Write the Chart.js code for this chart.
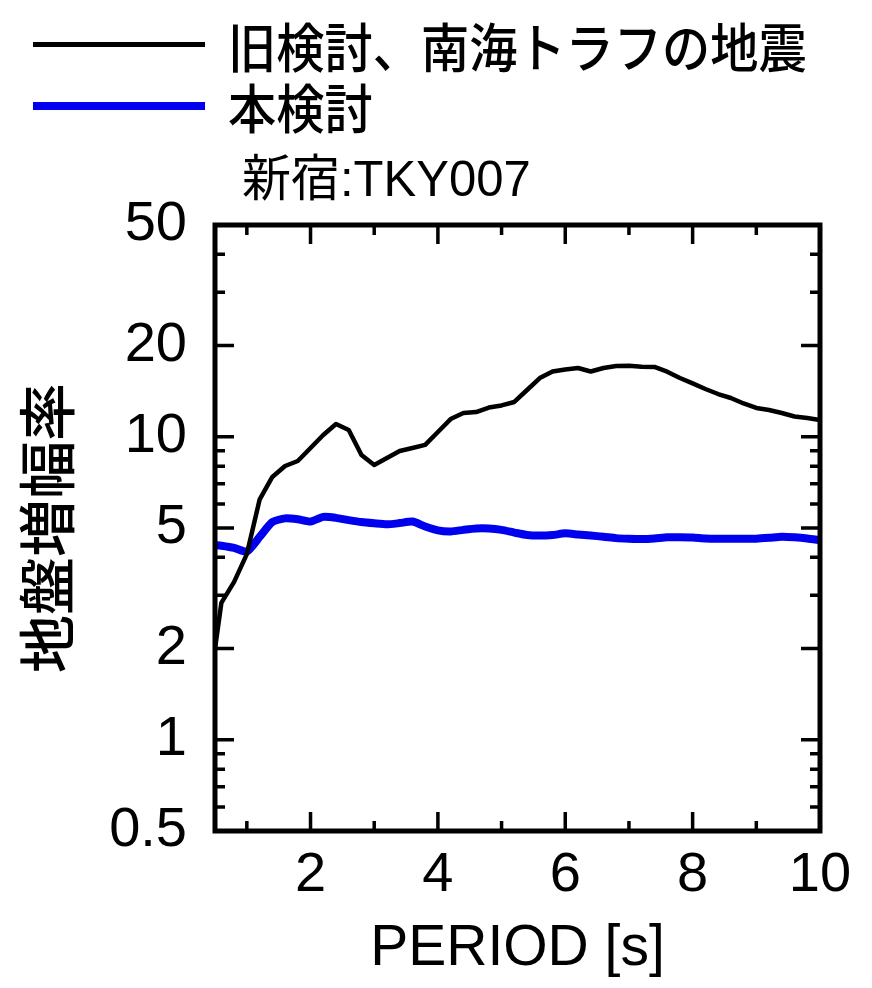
<!DOCTYPE html>
<html>
<head>
<meta charset="utf-8">
<script src="https://cdn.jsdelivr.net/npm/chart.js@4.4.1/dist/chart.umd.min.js"></script>
<style>
  html, body { margin: 0; padding: 0; background: #fff; }
  #wrap { position: relative; width: 872px; height: 988px; overflow: hidden; }
  #c { position: absolute; left: 0; top: 0; }
  .lg-line { position: absolute; left: 33px; width: 172px; }
  .txt { position: absolute; white-space: nowrap; line-height: 1; color: #000; transform-origin: 0 50%; }
</style>
</head>
<body>
<div id="wrap">
  <canvas id="c" width="872" height="988"></canvas>
  <div class="lg-line" style="top:42px;height:5px;background:#000;"></div>
  <div class="txt" style="left:228px;top:7px;font:500 53px 'Noto Sans CJK JP';transform:scaleX(0.91);">旧検討、南海トラフの地震</div>
  <div class="lg-line" style="top:102px;height:8px;background:#0000ee;"></div>
  <div class="txt" style="left:228px;top:68px;font:500 53px 'Noto Sans CJK JP';transform:scaleX(0.91);">本検討</div>
  <div class="txt" style="left:242px;top:138px;font:50px 'Liberation Sans','Noto Sans CJK JP';transform:scaleX(0.98);">新宿:TKY007</div>
</div>
<script>
// ---- data ----
const periods = [0.5, 0.6, 0.8, 1.0, 1.2, 1.4, 1.6, 1.8, 2.0, 2.2, 2.4, 2.6, 2.8, 3.0, 3.2, 3.4, 3.6, 3.8,
  4.0, 4.2, 4.4, 4.6, 4.8, 5.0, 5.2, 5.4, 5.6, 5.8, 6.0, 6.2, 6.4, 6.6, 6.8, 7.0, 7.2, 7.4, 7.6, 7.8,
  8.0, 8.2, 8.4, 8.6, 8.8, 9.0, 9.2, 9.4, 9.6, 9.8, 10.0];
const oldAmp = [2.0, 2.83, 3.32, 4.1, 6.2, 7.37, 8.01, 8.32, 9.18, 10.14, 11.02, 10.53, 8.71, 8.07, 8.51, 8.98, 9.18, 9.40,
  10.37, 11.44, 11.98, 12.07, 12.49, 12.69, 13.03, 14.27, 15.63, 16.42, 16.68, 16.87, 16.42, 16.87, 17.13, 17.17, 17.03, 17.0, 16.40, 15.63,
  15.0, 14.38, 13.84, 13.43, 12.88, 12.45, 12.26, 11.98, 11.67, 11.53, 11.36];
const newAmp = [4.39, 4.37, 4.30, 4.18, 4.67, 5.23, 5.38, 5.34, 5.25, 5.44, 5.40, 5.31, 5.23, 5.18, 5.14, 5.19, 5.25, 5.06,
  4.91, 4.87, 4.93, 4.98, 4.98, 4.93, 4.83, 4.74, 4.72, 4.74, 4.80, 4.76, 4.72, 4.68, 4.63, 4.61, 4.60, 4.62, 4.66, 4.66,
  4.65, 4.62, 4.61, 4.61, 4.61, 4.61, 4.64, 4.68, 4.66, 4.62, 4.56];
const seriesNames = ['旧検討、南海トラフの地震', '本検討'];
const xTickValues = [2, 4, 6, 8, 10];
const xMinorValues = [1, 3, 5, 7, 9];
const yTickValues = [0.5, 1, 2, 5, 10, 20, 50];
const yMajorInner = [1, 2, 5, 10, 20];
const yMinorValues = [0.6, 0.7, 0.8, 0.9, 3, 4, 6, 7, 8, 9, 30, 40];

const toPts = arr => periods.map((p, i) => ({ x: p, y: arr[i] }));

const framePlugin = {
  id: 'frame',
  afterDatasetsDraw(chart) {
    const { ctx, chartArea: a, scales: { x, y } } = chart;
    ctx.save();
    ctx.strokeStyle = '#000';
    ctx.lineCap = 'butt';
    ctx.lineWidth = 3.5;
    const major = 19, minor = 10;
    ctx.beginPath();
    xTickValues.concat(xMinorValues).forEach(v => {
      if (v <= x.min || v >= x.max) return;
      const px = x.getPixelForValue(v);
      const L = xTickValues.includes(v) ? major : minor;
      ctx.moveTo(px, a.bottom); ctx.lineTo(px, a.bottom - L);
      ctx.moveTo(px, a.top); ctx.lineTo(px, a.top + L);
    });
    yMajorInner.concat(yMinorValues).forEach(v => {
      const py = y.getPixelForValue(v);
      const L = yMajorInner.includes(v) ? major : minor;
      ctx.moveTo(a.left, py); ctx.lineTo(a.left + L, py);
      ctx.moveTo(a.right, py); ctx.lineTo(a.right - L, py);
    });
    ctx.stroke();
    ctx.lineWidth = 5;
    ctx.strokeRect(a.left, a.top, a.right - a.left, a.bottom - a.top);
    ctx.restore();
  }
};

new Chart(document.getElementById('c'), {
  type: 'line',
  data: {
    datasets: [
      { label: seriesNames[0], data: toPts(oldAmp), borderColor: '#000', borderWidth: 4.5,
        pointRadius: 0, tension: 0, fill: false, borderJoinStyle: 'round' },
      { label: seriesNames[1], data: toPts(newAmp), borderColor: '#0000ee', borderWidth: 8,
        pointRadius: 0, tension: 0.2, fill: false, borderJoinStyle: 'round', borderCapStyle: 'round' }
    ]
  },
  options: {
    responsive: false,
    animation: false,
    devicePixelRatio: 1,
    layout: { padding: { top: 225, right: 52, left: 0, bottom: 0 } },
    plugins: { legend: { display: false }, tooltip: { enabled: false }, title: { display: false } },
    scales: {
      x: {
        type: 'linear', min: 0.5, max: 10,
        afterBuildTicks: s => { s.ticks = xTickValues.map(v => ({ value: v })); },
        afterFit: s => { s.height = 988 - 831; },
        grid: { display: false, drawTicks: false },
        border: { display: false },
        ticks: { padding: 11, color: '#000', maxRotation: 0, autoSkip: false,
          font: { family: 'Liberation Sans', size: 56 }, callback: v => String(v) },
        title: { display: true, text: 'PERIOD [s]', color: '#000',
          font: { family: 'Liberation Sans', size: 57 }, padding: { top: 0, bottom: 5 } }
      },
      y: {
        type: 'logarithmic', min: 0.5, max: 50,
        afterBuildTicks: s => { s.ticks = yTickValues.map(v => ({ value: v })); },
        afterFit: s => { s.width = 215; },
        grid: { display: false, drawTicks: false },
        border: { display: false },
        ticks: { padding: 28, color: '#000', autoSkip: false,
          font: { family: 'Liberation Sans', size: 56 }, callback: v => String(v) },
        title: { display: true, text: '地盤増幅率', color: '#000',
          font: { family: 'Noto Sans CJK JP', size: 58, weight: '500' }, padding: { top: 12, bottom: 0 } }
      }
    }
  },
  plugins: [framePlugin]
});
</script>
</body>
</html>
